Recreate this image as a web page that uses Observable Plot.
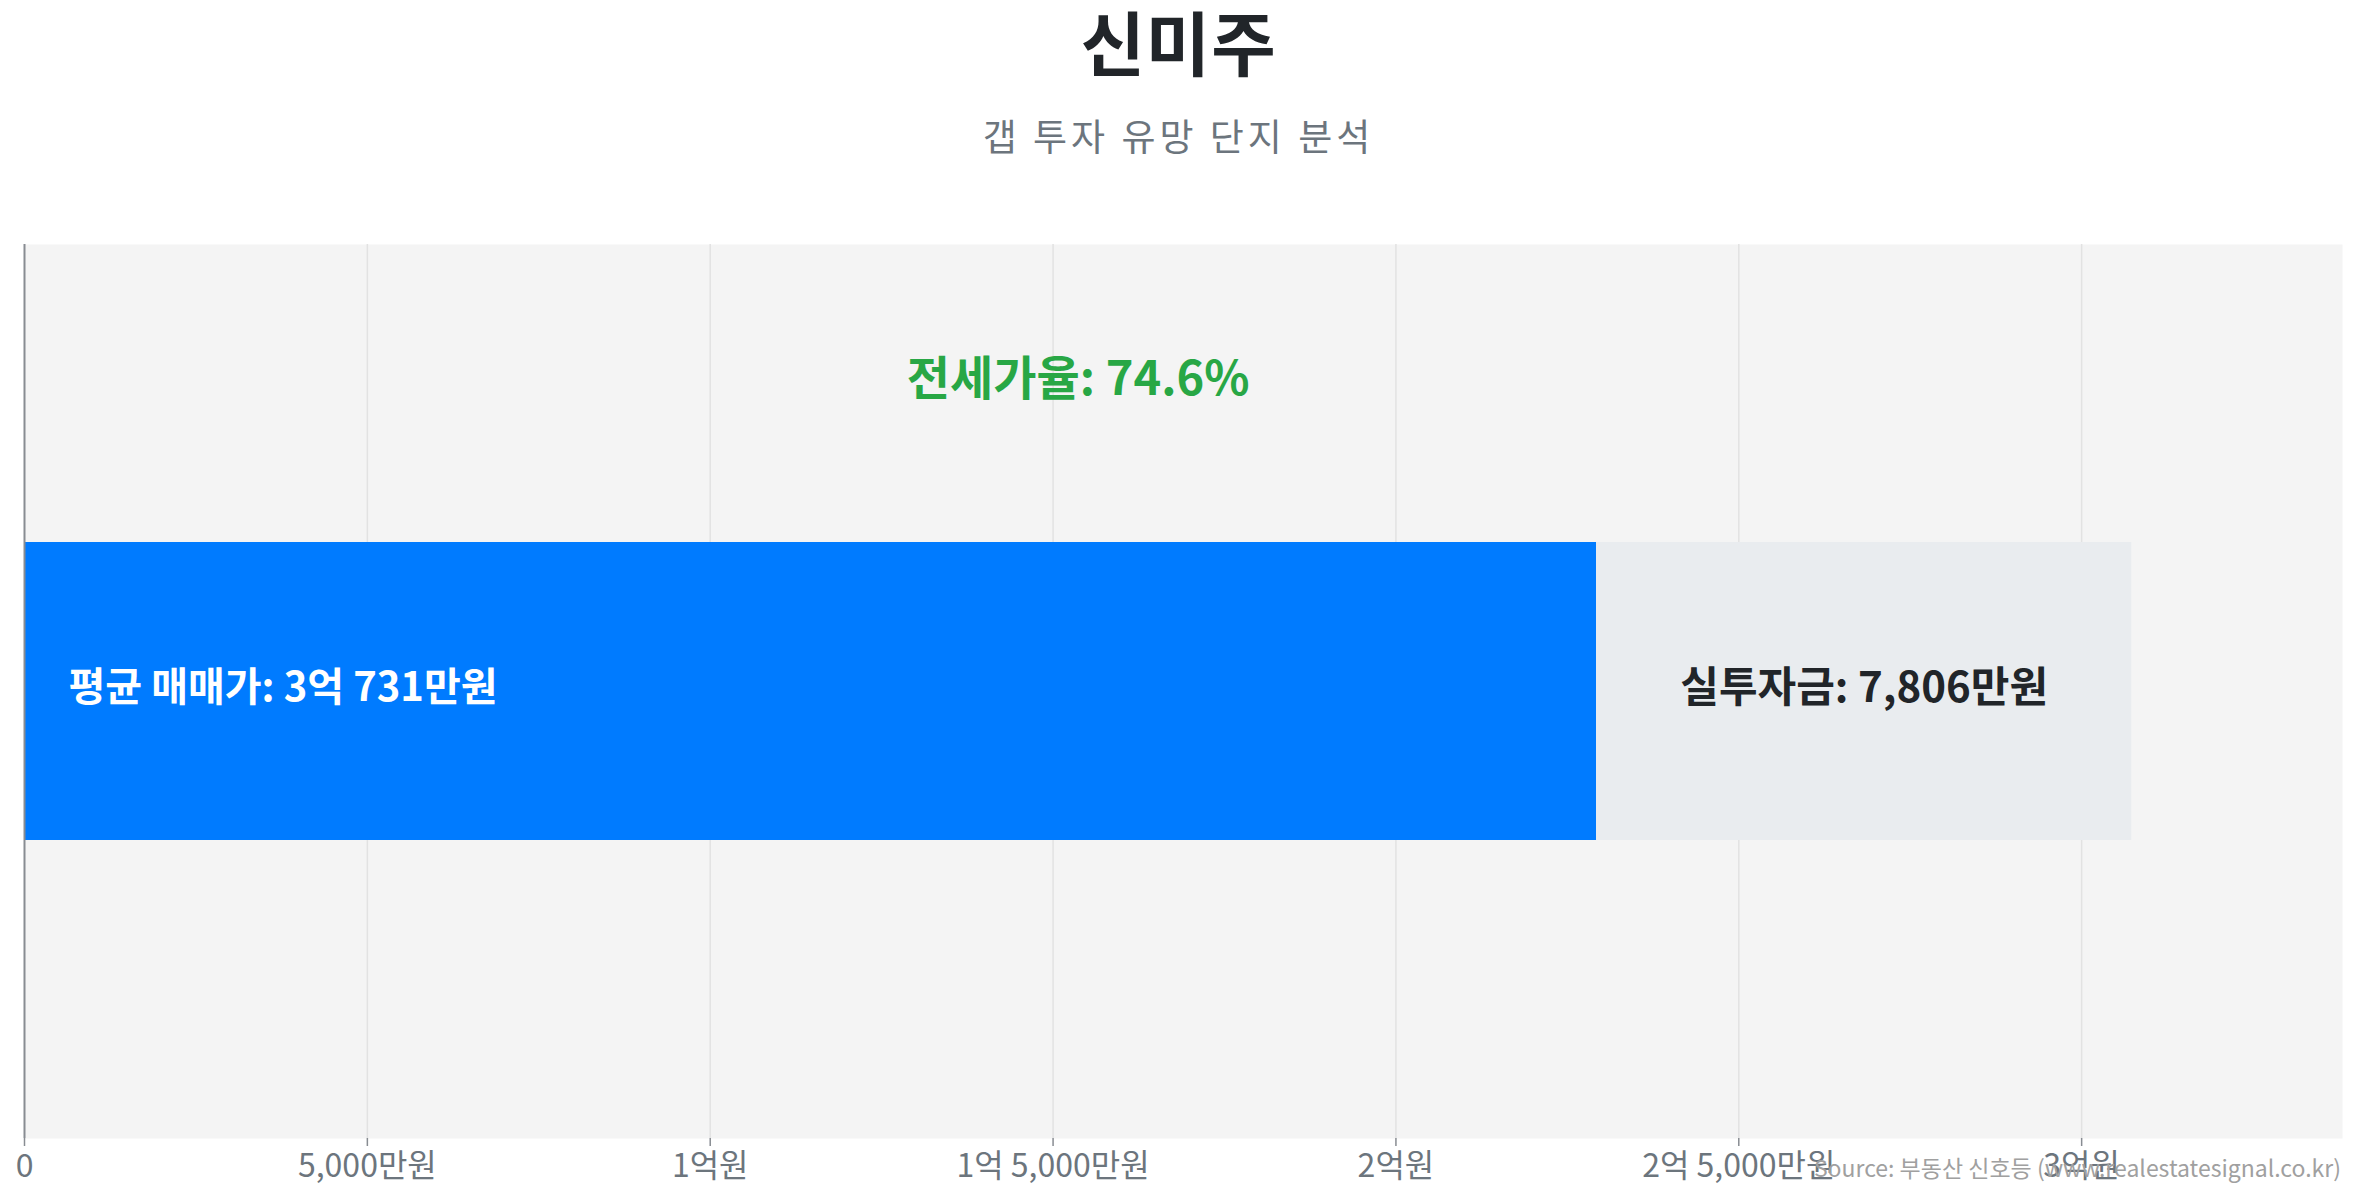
<!DOCTYPE html>
<html>
<head>
<meta charset="utf-8">
<script src="https://cdn.jsdelivr.net/npm/d3@7"></script>
<script src="https://cdn.jsdelivr.net/npm/@observablehq/plot@0.6"></script>
<style>
  html, body { margin: 0; padding: 0; background: #fff; }
  body { width: 2357px; height: 1200px; position: relative; overflow: hidden; font-family: "Noto Sans CJK KR", "Noto Sans", sans-serif; }
  #header { height: 190px; position: relative; }
  #title { position: absolute; left: 0; right: 0; top: 0px; text-align: center; font-size: 70px; font-weight: 700; color: #212529; line-height: 82px; letter-spacing: 1px; }
  #subtitle { position: absolute; left: 0; right: 0; top: 112px; text-align: center; font-size: 37px; font-weight: 400; color: #6c757d; line-height: 46px; letter-spacing: 4px; }
  #source { position: absolute; right: 16px; top: 1151px; font-size: 23px; color: #a0a0a0; line-height: 32px; }
  #chart svg { display: block; }
</style>
</head>
<body>
<div id="header">
  <div id="title">신미주</div>
  <div id="subtitle">갭 투자 유망 단지 분석</div>
</div>
<div id="chart"></div>
<div id="source">Source: 부동산 신호등 (www.realestatesignal.co.kr)</div>
<script>
// Data (만원 units)
const complexes = ["신미주"];
const salePrices = [30731];      // 평균 매매가
const jeonsePrices = [22925];    // 전세가
const gapInvestments = [7806];   // 실투자금
const jeonseRates = [74.6];      // 전세가율 (%)
const saleLabels = ["평균 매매가: 3억 731만원"];
const gapLabels = ["실투자금: 7,806만원"];
const rateLabels = ["전세가율: 74.6%"];
const xTicks = [0, 5000, 10000, 15000, 20000, 25000, 30000];
const xTickLabels = ["0", "5,000만원", "1억원", "1억 5,000만원", "2억원", "2억 5,000만원", "3억원"];

const rows = complexes.map((c, i) => ({
  name: c,
  sale: salePrices[i],
  jeonse: jeonsePrices[i],
  gap: gapInvestments[i],
  rate: jeonseRates[i],
  saleLabel: saleLabels[i],
  gapLabel: gapLabels[i],
  rateLabel: rateLabels[i]
}));
const tickLabelMap = new Map(xTicks.map((t, i) => [t, xTickLabels[i]]));
const xMax = d3.max(salePrices) * 1.1;
const font = "Noto Sans CJK KR";

const chart = Plot.plot({
  width: 2357,
  height: 1010,
  marginTop: 54,
  marginBottom: 62,
  marginLeft: 24,
  marginRight: 15,
  style: { fontFamily: font, background: "transparent", overflow: "visible" },
  x: { domain: [0, xMax], ticks: xTicks, tickFormat: d => tickLabelMap.get(d) },
  y: { domain: complexes, padding: 0.5, axis: null },
  marks: [
    Plot.frame({ fill: "#f4f4f4", stroke: null }),
    Plot.gridX(xTicks.filter(t => t > 0), { stroke: "#e2e2e2", strokeOpacity: 1, strokeWidth: 1.5 }),
    Plot.barX(rows, { y: "name", x1: 0, x2: "jeonse", fill: "#007bff" }),
    Plot.barX(rows, { y: "name", x1: "jeonse", x2: "sale", fill: "#e9ecef" }),
    Plot.ruleX([0], { stroke: "#888c92", strokeWidth: 2 }),
    Plot.ruleY([0], { frameAnchor: "bottom", stroke: "#888c92", strokeWidth: 3 }),
    Plot.axisX({
      ticks: xTicks,
      tickFormat: d => tickLabelMap.get(d),
      tickSize: 8,
      tickPadding: 8,
      fontSize: 32,
      color: "#6c757d",
      stroke: "#888c92",
      strokeWidth: 1.5,
      label: null,
      style: { letterSpacing: "1px" }
    }),
    Plot.text(rows, { y: "name", x: 0, text: "saleLabel", textAnchor: "start", dx: 44, dy: -3, fill: "#ffffff", fontSize: 40, fontWeight: 700, style: { letterSpacing: "1px" } }),
    Plot.text(rows, { y: "name", x: d => (d.jeonse + d.sale) / 2, text: "gapLabel", dy: -3, fill: "#212529", fontSize: 42, fontWeight: 700, style: { letterSpacing: "1.5px" } }),
    Plot.text(rows, { x: d => d.sale / 2, frameAnchor: "top", dy: 117, text: "rateLabel", fill: "#28a745", fontSize: 47, fontWeight: 700 })
  ]
});
document.getElementById("chart").appendChild(chart);
</script>
</body>
</html>
